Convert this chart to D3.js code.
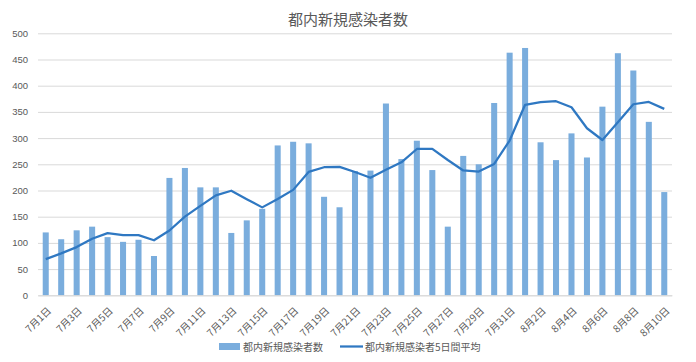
<!DOCTYPE html>
<html><head><meta charset="utf-8">
<script src="https://cdn.jsdelivr.net/npm/d3@7"></script>
<style>
html,body{margin:0;padding:0;background:#fff;}
svg{display:block;font-family:"Liberation Sans","Noto Sans CJK JP",sans-serif;}
</style></head>
<body>
<svg id="chart" width="696" height="362"></svg>
<script>
const categories = ["7月1日","7月2日","7月3日","7月4日","7月5日","7月6日","7月7日","7月8日","7月9日","7月10日",
"7月11日","7月12日","7月13日","7月14日","7月15日","7月16日","7月17日","7月18日","7月19日","7月20日",
"7月21日","7月22日","7月23日","7月24日","7月25日","7月26日","7月27日","7月28日","7月29日","7月30日",
"7月31日","8月1日","8月2日","8月3日","8月4日","8月5日","8月6日","8月7日","8月8日","8月9日","8月10日"];
const dailyCases = [120,107,124,131,111,102,106,75,224,243,
206,206,119,143,165,286,293,290,188,168,
237,238,366,260,295,239,131,266,250,367,
463,472,292,258,309,263,360,462,429,331,197];
const avg5 = [69,80,92,108,118.6,115,114.8,105,123.6,150,
170.8,190.8,199.6,183.4,167.8,183.8,201.2,235.4,244.4,245,
235.2,224.2,239.4,253.8,279.2,279.6,258.2,238.2,236.2,250.6,
295.4,363.6,368.8,370.4,358.8,318.8,296.4,330.4,364.6,369,355.8];
const yTicks = [0,50,100,150,200,250,300,350,400,450,500];
const title = "都内新規感染者数";
const seriesNames = ["都内新規感染者数","都内新規感染者5日間平均"];

const svg = d3.select("#chart");
const mLeft = 38, mRight = 672, mTop = 33.3, mBottom = 295.3;
const x = d3.scaleBand().domain(categories).range([mLeft, mRight]).paddingInner(0.61).paddingOuter(0.305);
const y = d3.scaleLinear().domain([0,500]).range([mBottom, mTop]);
const textColor = "#595959";

svg.append("text").attr("x", 348).attr("y", 25).attr("text-anchor","middle")
  .attr("font-size", 15).attr("fill", textColor).attr("font-family","Noto Sans CJK JP").text(title);

// grid
const yAxis = d3.axisLeft(y).tickValues(yTicks).tickSize(-(mRight-mLeft)).tickPadding(10);
const gy = svg.append("g").attr("transform", `translate(${mLeft},0)`).call(yAxis);
gy.select(".domain").remove();
gy.selectAll(".tick line").attr("stroke", "#d9d9d9").attr("stroke-width", 1);
gy.selectAll(".tick text").attr("fill", textColor).attr("font-size", 9.5).attr("x", -10);

// bars
svg.append("g").selectAll("rect").data(dailyCases).join("rect")
  .attr("x", (d,i) => x(categories[i]))
  .attr("width", x.bandwidth())
  .attr("y", d => y(d))
  .attr("height", d => y(0) - y(d))
  .attr("fill", "#7aaddd");

// x axis
const xAxis = d3.axisBottom(x).tickValues(categories.filter((c,i)=>i%2===0)).tickSize(0).tickSizeOuter(0);
const gx = svg.append("g").attr("transform", `translate(0,${mBottom})`).call(xAxis);
gx.select(".domain").attr("stroke", "#d9d9d9");
gx.selectAll(".tick text").attr("fill", textColor).attr("font-size", 10)
  .attr("font-family","Noto Sans CJK JP")
  .attr("text-anchor","end").attr("dy", null).attr("y", 0)
  .attr("transform","translate(6,16) rotate(-45)");

// line
const line = d3.line().x((d,i)=> x(categories[i]) + x.bandwidth()/2).y(d=>y(d));
svg.append("path").datum(avg5).attr("d", line).attr("fill","none")
  .attr("stroke","#2f78c2").attr("stroke-width",2.25).attr("stroke-linejoin","round");

// legend
const lg = svg.append("g").attr("font-family","Noto Sans CJK JP").attr("font-size",10).attr("fill",textColor);
lg.append("rect").attr("x",219).attr("y",343).attr("width",21).attr("height",7).attr("fill","#7aaddd");
lg.append("text").attr("x",243).attr("y",350.5).text(seriesNames[0]);
lg.append("line").attr("x1",340).attr("x2",363).attr("y1",346.5).attr("y2",346.5).attr("stroke","#2f78c2").attr("stroke-width",2.25);
lg.append("text").attr("x",365).attr("y",350.5).text(seriesNames[1]);
</script>
</body></html>
